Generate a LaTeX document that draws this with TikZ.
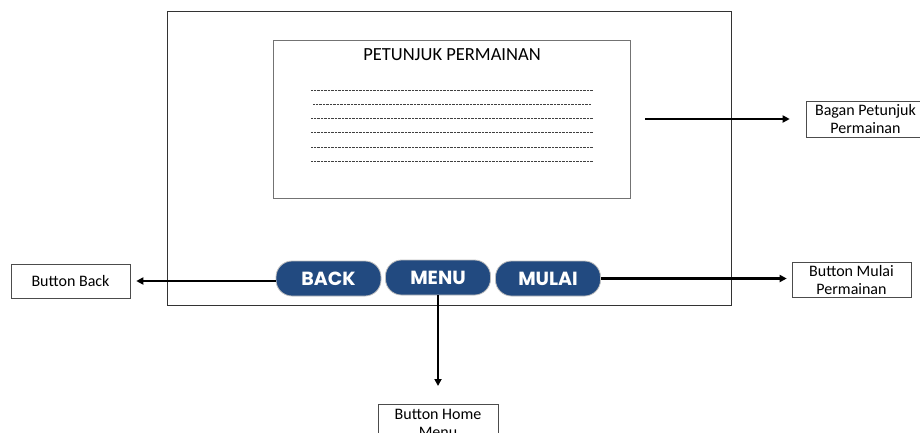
\documentclass[tikz,border=0pt]{standalone}
\usepackage{fontspec}
\setmainfont{Carlito}
\newfontfamily\btnfont{Poppins}
\usetikzlibrary{arrows.meta}
\definecolor{btnblue}{HTML}{224A80}
\tikzset{
  lbl/.style={draw=black!70, line width=0.6pt, align=center, font=\fontsize{16}{18}\selectfont, inner sep=0pt},
  btn/.style={fill=btnblue, draw=black!25, line width=0.8pt, rounded corners=16pt, text=white, font=\btnfont\bfseries\fontsize{19}{20}\selectfont, minimum width=105pt, minimum height=35pt, inner sep=0pt},
  arr/.style={line width=2.2pt, -{Triangle[length=7pt,width=7pt]}},
  dotline/.style={line width=0.7pt, black!75, dash pattern=on 0.8pt off 0.6pt}
}
\begin{document}
\begin{tikzpicture}[x=1pt,y=-1pt]
\useasboundingbox (0,0) rectangle (920,432);
\clip (0,0) rectangle (920,432);
% screen
\draw[black!80, line width=0.8pt] (167,11) rectangle (731,305);
% panel
\node[draw=black!55, line width=0.8pt, minimum width=357pt, minimum height=158pt, inner sep=0pt] (panel) at (451.5,119) {};
\node[font=\fontsize{18.5}{19}\selectfont] (title) at (452,55) {PETUNJUK PERMAINAN};
\foreach \yy/\xa/\xb in {90/311/593,104/313/591,118/311/593,132/311/593,147/311/593,161/311/593}{
  \draw[dotline] (\xa,\yy) -- (\xb,\yy);
}
% buttons
\node[btn] (back) at (328.5,278.5) {BACK};
\node[btn] (menu) at (438,277.5) {MENU};
\node[btn] (mulai) at (548,278.5) {MULAI};
% label boxes
\node[lbl, minimum width=119pt, minimum height=34pt] (lback) at (70.5,281) {Button Back};
\node[lbl, minimum width=119pt, minimum height=35pt] (lmulai) at (851.5,279.5) {Button Mulai\\Permainan};
\node[lbl, minimum width=119pt, minimum height=36pt] (lbagan) at (865.5,119) {Bagan Petunjuk\\Permainan};
\node[lbl, minimum width=120pt, minimum height=38pt, anchor=north] (lhome) at (438,404) {Button Home\\Menu};
% connectors
\coordinate (bstart) at (645,119);
\draw[arr] (bstart) -- ([xshift=-16pt]lbagan.west);
\draw[arr] (back.west |- lback.east) -- ([xshift=6pt]lback.east);
\draw[arr] (mulai.east) -- ([xshift=-5pt]mulai.east -| lmulai.west);
\draw[arr] (menu.south) -- ([yshift=18pt]lhome.north);
\end{tikzpicture}
\end{document}
